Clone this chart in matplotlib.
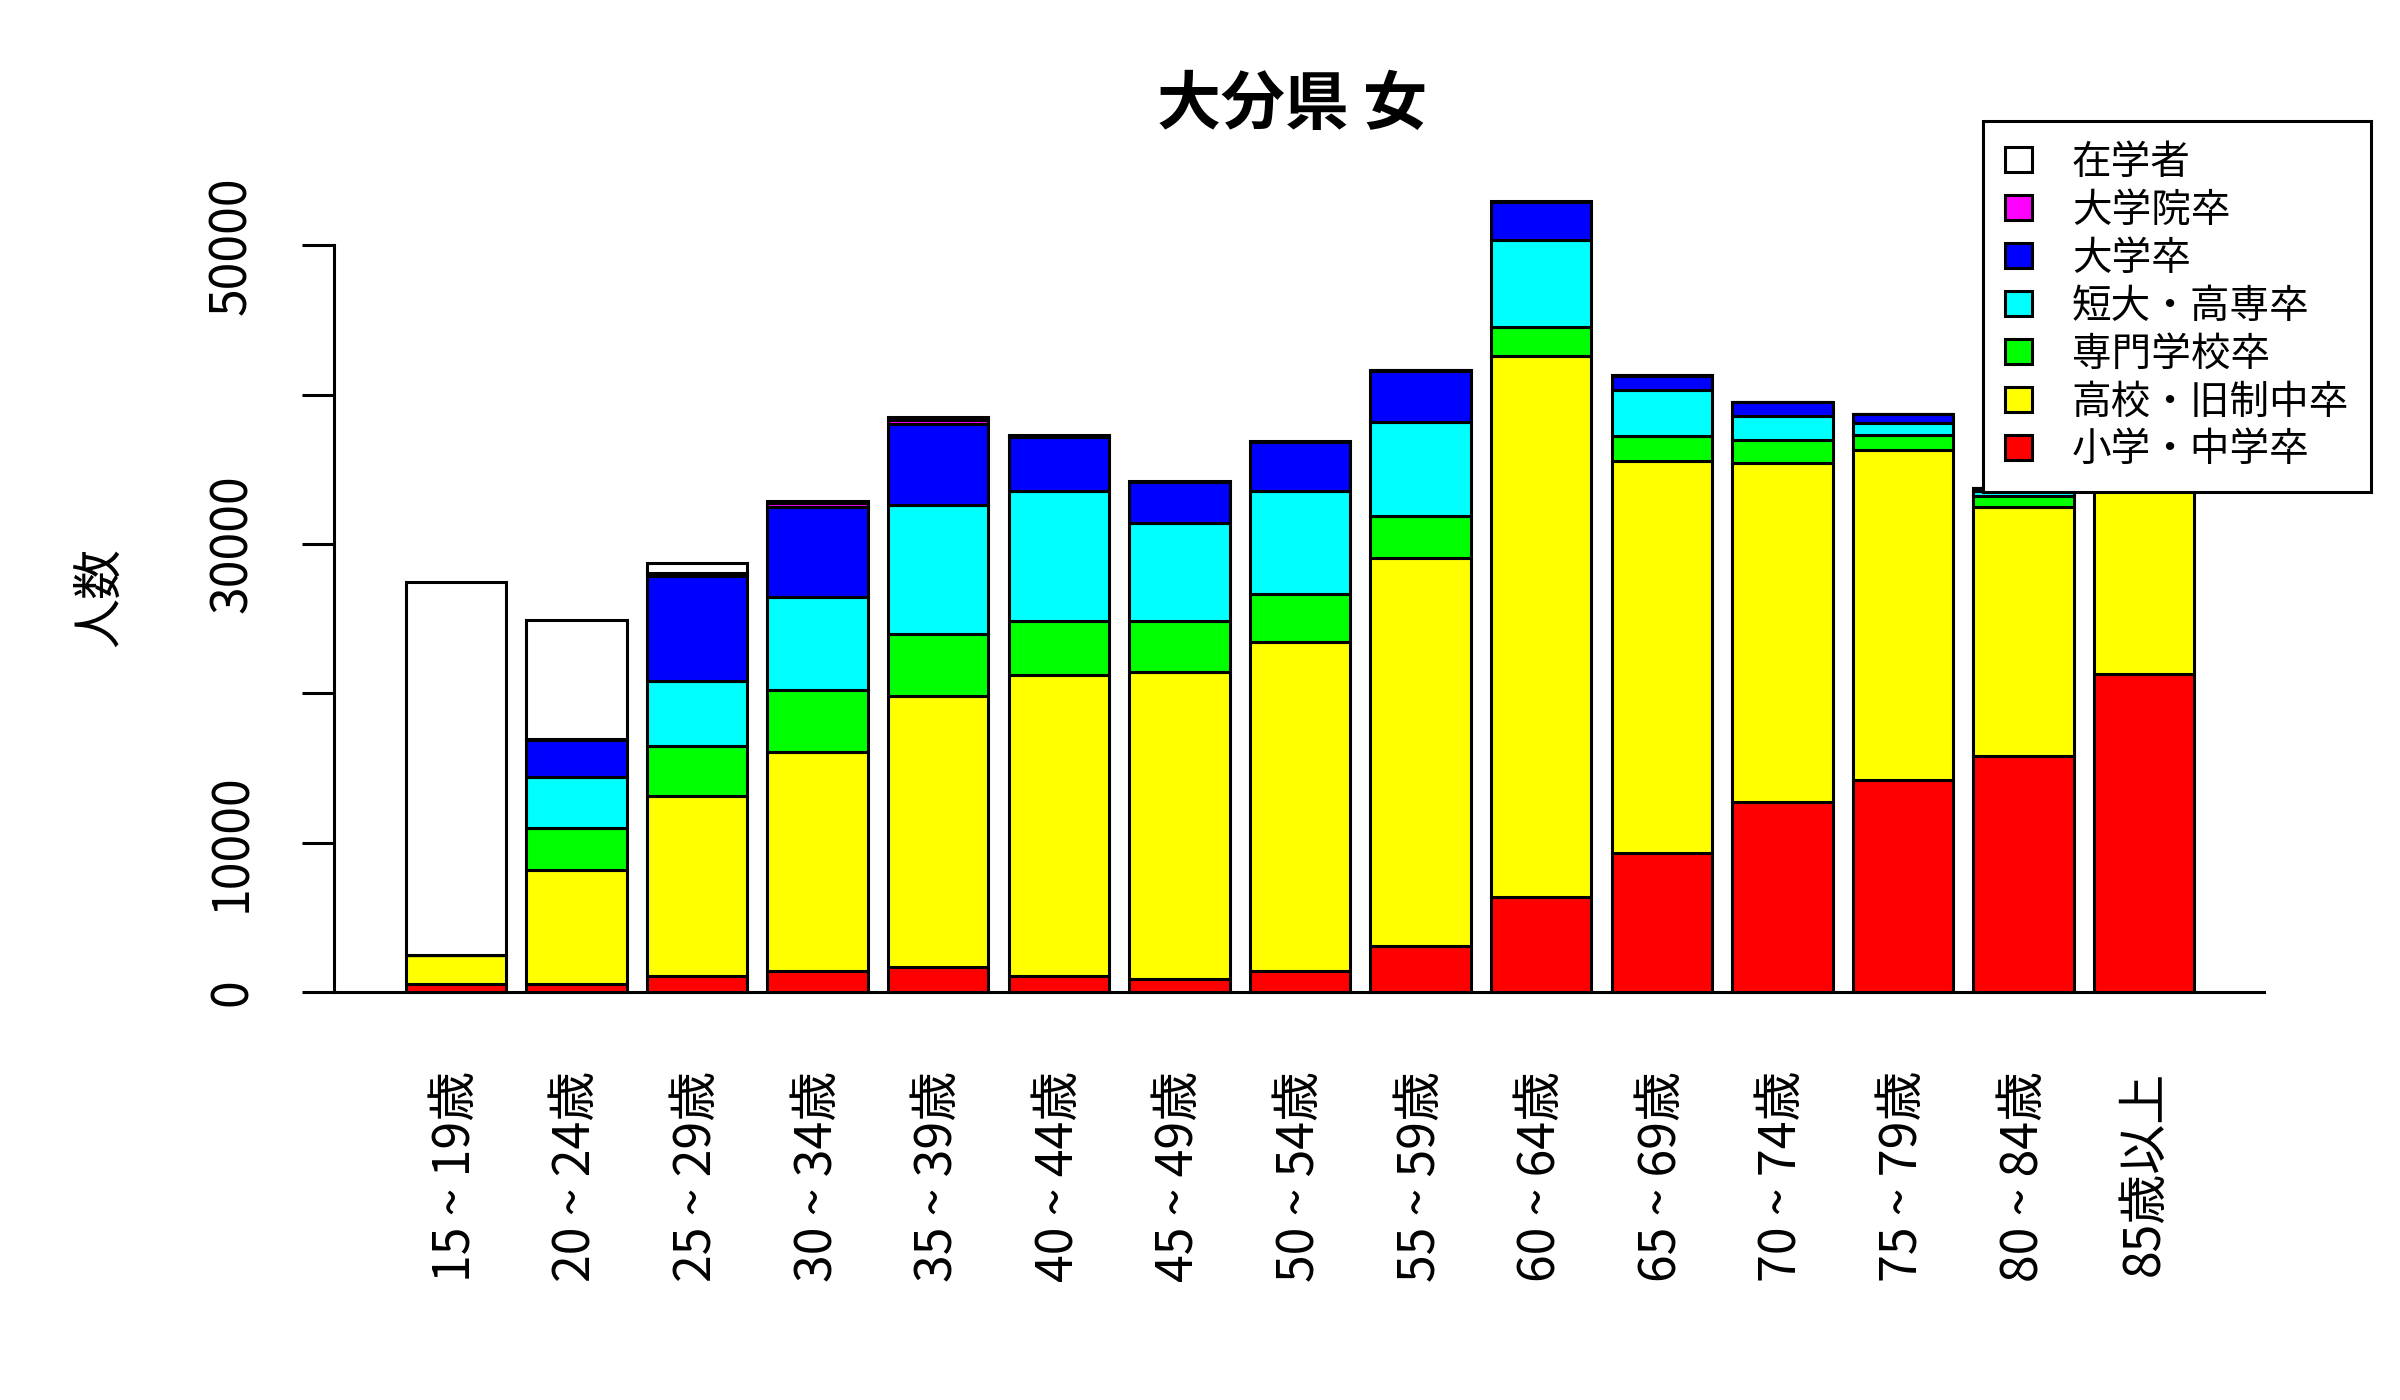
import matplotlib
matplotlib.use('Agg')
import matplotlib.pyplot as plt
import numpy as np

plt.rcParams['font.family'] = ['Noto Sans CJK JP', 'DejaVu Sans']

# age groups
ages = ['15 ~ 19歳', '20 ~ 24歳', '25 ~ 29歳', '30 ~ 34歳', '35 ~ 39歳', '40 ~ 44歳', '45 ~ 49歳',
        '50 ~ 54歳', '55 ~ 59歳', '60 ~ 64歳', '65 ~ 69歳', '70 ~ 74歳', '75 ~ 79歳', '80 ~ 84歳', '85歳以上']

# education levels, bottom of the stack first
levels = ['小学・中学卒', '高校・旧制中卒', '専門学校卒', '短大・高専卒', '大学卒', '大学院卒', '在学者']
colors = ['#ff0000', '#ffff00', '#00ff00', '#00ffff', '#0000ff', '#ff00ff', '#ffffff']

elem = [530, 530, 1100, 1380, 1660, 1100, 850, 1380, 3110, 6370, 9310, 12740, 14170, 15810, 21300]
high = [1980, 7640, 12060, 14720, 18190, 20100, 20590, 22080, 25980, 36200, 26250, 22720, 22110, 16650, 12500]
senmon = [0, 2800, 3330, 4140, 4140, 3680, 3430, 3190, 2800, 1980, 1700, 1490, 1030, 730, 400]
tandai = [0, 3400, 4350, 6230, 8635, 8700, 6550, 6900, 6300, 5800, 3080, 1630, 820, 350, 200]
univ = [0, 2510, 7000, 6010, 5450, 3610, 2720, 3290, 3430, 2550, 950, 920, 580, 200, 80]
grad = [0, 60, 200, 250, 250, 60, 40, 30, 20, 20, 10, 10, 5, 0, 0]
student = [24950, 7970, 660, 150, 210, 80, 60, 40, 20, 80, 20, 20, 20, 20, 20]

series = [elem, high, senmon, tandai, univ, grad, student]
data = np.array(series, dtype=float)

fig = plt.figure(figsize=(24, 14), dpi=100)
ax = fig.add_axes([334/2400, 1-1023.7/1400, (2266-334)/2400, (1023.7-169)/1400])

x = 0.7 + 1.2*np.arange(len(ages))
bottom = np.zeros(len(ages))
handles = []
for vals, c, lab in zip(data, colors, levels):
	b = ax.bar(x, vals, width=1, bottom=bottom, color=c, edgecolor='black', linewidth=2.2, label=lab)
	handles.append(b)
	bottom = bottom + vals

ymax = bottom.max()
ax.set_ylim(-0.04*ymax, ymax*1.04)
ax.set_xlim(0.2 - 0.04*(x[-1]+0.5-0.2), x[-1]+0.5 + 0.04*(x[-1]+0.5-0.2))
ax.axhline(0, color='black', linewidth=2.2, zorder=0)

for s in ['top', 'right', 'bottom']:
	ax.spines[s].set_visible(False)
ax.spines['left'].set_bounds(0, 50000)
ax.spines['left'].set_linewidth(2.2)

ax.set_yticks([0, 10000, 20000, 30000, 40000, 50000])
ax.set_yticklabels(['0', '10000', '', '30000', '', '50000'], rotation=90, ha='center', va='center')
ax.tick_params(axis='y', direction='out', length=23, width=2.2, labelsize=36, pad=50)

ax.set_xticks(x)
ax.set_xticklabels(ages, rotation=90, ha='center', va='top')
ax.tick_params(axis='x', length=0, labelsize=36, pad=34)

fig.text(1292/2400, 1-105/1400, '大分県 女', fontsize=46, fontweight='bold', ha='center', va='center')
fig.text(100/2400, 1-597/1400, '人数', fontsize=36, rotation=90, ha='center', va='center')

leg = ax.legend(handles[::-1], levels[::-1], loc='upper right', bbox_to_anchor=(2371/2400, 1-121/1400),
	bbox_transform=fig.transFigure, fancybox=False, edgecolor='black', framealpha=1,
	fontsize=28.5, handlelength=0.7, handleheight=0.6, handletextpad=1.0,
	borderpad=0.55, labelspacing=0.2, borderaxespad=0)
leg.get_frame().set_linewidth(2.2)

fig.savefig('out.png', dpi=100, facecolor='white')
